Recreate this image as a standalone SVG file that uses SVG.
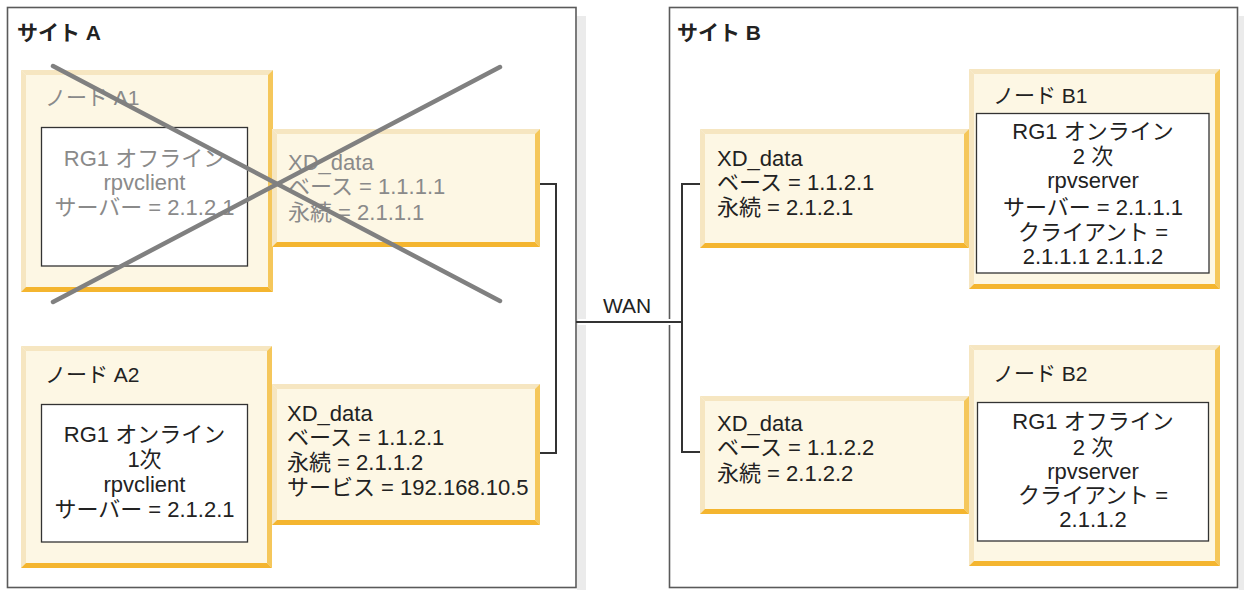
<svg xmlns="http://www.w3.org/2000/svg" width="1244" height="590" viewBox="0 0 1244 590">
<style>
text{font-family:"Liberation Sans","Noto Sans CJK JP",sans-serif;fill:#222}
.site{fill:#fff;stroke:#5a5a5a;stroke-width:1.6}
.shadow{fill:#ebebeb}
.title{font-size:21px;font-weight:bold}
.lbl{font-size:21px}
.t{font-size:22px}
.c{text-anchor:middle}
.off{fill:#8a8a8a}
.bf{fill:#fdf7e4}
.bt{fill:#f6e6c1}
.br{fill:#f5c75b}
.bb{fill:#f4b52f}
.wb{fill:#fff;stroke:#333;stroke-width:1.3}
.conn{fill:none;stroke:#333;stroke-width:2}
.halo{fill:none;stroke:#fff;stroke-width:6}
.cross{stroke:#808080;stroke-width:4.5;stroke-linecap:round}
</style>

<g id="site-a">
  <rect class="shadow" x="577" y="16" width="9" height="574"/>
  <rect class="site" x="7.5" y="7.5" width="568.5" height="580"/>
  <text class="title" x="17" y="40">サイト A</text>
</g>
<g id="site-b">
  <rect class="shadow" x="1239" y="16" width="5" height="574"/>
  <rect class="site" x="669.5" y="7.5" width="568" height="580"/>
  <text class="title" x="677" y="40">サイト B</text>
</g>

<g id="connectors">
  <path class="conn" d="M540,184 H556 V453 H540"/>
  <path class="halo" d="M578,322 H680"/>
  <path class="conn" d="M576,322 H682"/>
  <path class="conn" d="M700,184 H682 V452 H700"/>
  <text class="lbl" x="627" y="313" text-anchor="middle">WAN</text>
</g>

<g id="node-a1">
  <rect class="bf" x="21" y="70" width="252" height="222"/>
  <polygon class="bt" points="21,70 273,70 268,75 26,75"/>
  <polygon class="bt" points="21,70 26,75 26,287 21,292"/>
  <polygon class="br" points="273,70 273,292 268,287 268,75"/>
  <polygon class="bb" points="21,292 26,287 268,287 273,292"/>
  <text class="lbl off" x="45" y="105">ノード A1</text>
  <rect class="wb" x="41.5" y="127.5" width="206" height="138.5"/>
  <text class="t c off" x="144.5" y="166">RG1 オフライン</text>
  <text class="t c off" x="144.5" y="190">rpvclient</text>
  <text class="t c off" x="144.5" y="215">サーバー = 2.1.2.1</text>
</g>

<g id="xd-a1">
  <rect class="bf" x="272" y="129" width="268" height="118"/>
  <polygon class="bt" points="272,129 540,129 535,134 277,134"/>
  <polygon class="bt" points="272,129 277,134 277,242 272,247"/>
  <polygon class="br" points="540,129 540,247 535,242 535,134"/>
  <polygon class="bb" points="272,247 277,242 535,242 540,247"/>
  <text class="t off" x="288" y="170">XD_data</text>
  <text class="t off" x="288" y="194">ベース = 1.1.1.1</text>
  <text class="t off" x="288" y="220">永続 = 2.1.1.1</text>
</g>

<g id="node-a2">
  <rect class="bf" x="21" y="346" width="251" height="222"/>
  <polygon class="bt" points="21,346 272,346 267,351 26,351"/>
  <polygon class="bt" points="21,346 26,351 26,563 21,568"/>
  <polygon class="br" points="272,346 272,568 267,563 267,351"/>
  <polygon class="bb" points="21,568 26,563 267,563 272,568"/>
  <text class="lbl" x="45" y="382">ノード A2</text>
  <rect class="wb" x="41.5" y="404.5" width="206" height="137.5"/>
  <text class="t c" x="144.5" y="442">RG1 オンライン</text>
  <text class="t c" x="144.5" y="467">1次</text>
  <text class="t c" x="144.5" y="492">rpvclient</text>
  <text class="t c" x="144.5" y="517">サーバー = 2.1.2.1</text>
</g>

<g id="xd-a2">
  <rect class="bf" x="272" y="384" width="268" height="141"/>
  <polygon class="bt" points="272,384 540,384 535,389 277,389"/>
  <polygon class="bt" points="272,384 277,389 277,520 272,525"/>
  <polygon class="br" points="540,384 540,525 535,520 535,389"/>
  <polygon class="bb" points="272,525 277,520 535,520 540,525"/>
  <text class="t" x="287" y="421">XD_data</text>
  <text class="t" x="287" y="445">ベース = 1.1.2.1</text>
  <text class="t" x="287" y="470">永続 = 2.1.1.2</text>
  <text class="t" x="287" y="495">サービス = 192.168.10.5</text>
</g>

<g id="cross">
  <line class="cross" x1="53" y1="66" x2="500" y2="301"/>
  <line class="cross" x1="53" y1="302" x2="500" y2="67"/>
</g>

<g id="xd-b1">
  <rect class="bf" x="700" y="129" width="269" height="119"/>
  <polygon class="bt" points="700,129 969,129 964,134 705,134"/>
  <polygon class="bt" points="700,129 705,134 705,243 700,248"/>
  <polygon class="br" points="969,129 969,248 964,243 964,134"/>
  <polygon class="bb" points="700,248 705,243 964,243 969,248"/>
  <text class="t" x="717" y="166">XD_data</text>
  <text class="t" x="717" y="190">ベース = 1.1.2.1</text>
  <text class="t" x="717" y="215">永続 = 2.1.2.1</text>
</g>

<g id="node-b1">
  <rect class="bf" x="969" y="69" width="251" height="220"/>
  <polygon class="bt" points="969,69 1220,69 1215,74 974,74"/>
  <polygon class="bt" points="969,69 974,74 974,284 969,289"/>
  <polygon class="br" points="1220,69 1220,289 1215,284 1215,74"/>
  <polygon class="bb" points="969,289 974,284 1215,284 1220,289"/>
  <text class="lbl" x="993" y="103">ノード B1</text>
  <rect class="wb" x="976.5" y="113.5" width="232.5" height="159.5"/>
  <text class="t c" x="1093" y="139">RG1 オンライン</text>
  <text class="t c" x="1093" y="164">2 次</text>
  <text class="t c" x="1093" y="188">rpvserver</text>
  <text class="t c" x="1093" y="215">サーバー = 2.1.1.1</text>
  <text class="t c" x="1093" y="240">クライアント =</text>
  <text class="t c" x="1093" y="264">2.1.1.1 2.1.1.2</text>
</g>

<g id="xd-b2">
  <rect class="bf" x="700" y="396" width="269" height="118"/>
  <polygon class="bt" points="700,396 969,396 964,401 705,401"/>
  <polygon class="bt" points="700,396 705,401 705,509 700,514"/>
  <polygon class="br" points="969,396 969,514 964,509 964,401"/>
  <polygon class="bb" points="700,514 705,509 964,509 969,514"/>
  <text class="t" x="717" y="431">XD_data</text>
  <text class="t" x="717" y="455">ベース = 1.1.2.2</text>
  <text class="t" x="717" y="481">永続 = 2.1.2.2</text>
</g>

<g id="node-b2">
  <rect class="bf" x="969" y="345" width="251" height="221"/>
  <polygon class="bt" points="969,345 1220,345 1215,350 974,350"/>
  <polygon class="bt" points="969,345 974,350 974,561 969,566"/>
  <polygon class="br" points="1220,345 1220,566 1215,561 1215,350"/>
  <polygon class="bb" points="969,566 974,561 1215,561 1220,566"/>
  <text class="lbl" x="993" y="381">ノード B2</text>
  <rect class="wb" x="977.5" y="402.5" width="231" height="138.5"/>
  <text class="t c" x="1093" y="429">RG1 オフライン</text>
  <text class="t c" x="1093" y="455">2 次</text>
  <text class="t c" x="1093" y="479">rpvserver</text>
  <text class="t c" x="1093" y="503">クライアント =</text>
  <text class="t c" x="1093" y="527">2.1.1.2</text>
</g>
</svg>
